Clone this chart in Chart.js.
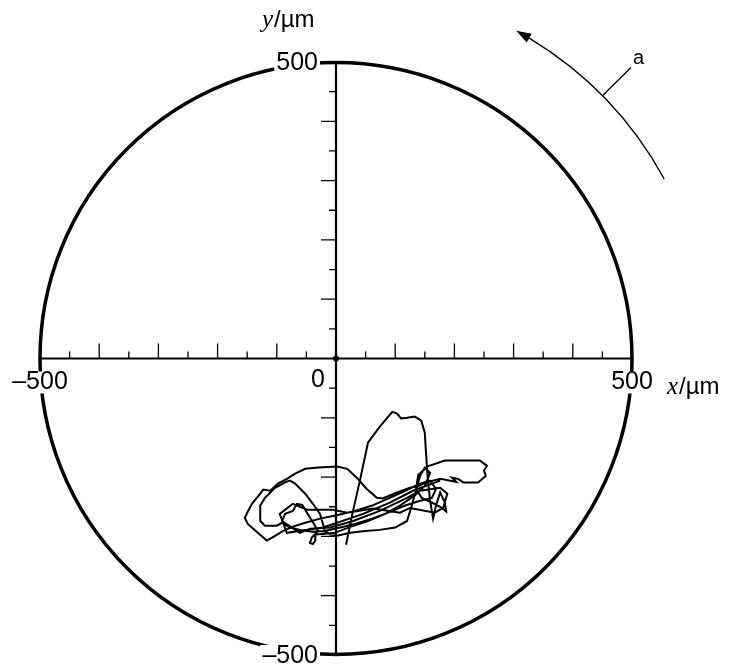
<!DOCTYPE html>
<html>
<head>
<meta charset="utf-8">
<script src="https://cdn.jsdelivr.net/npm/chart.js@4/dist/chart.umd.min.js"></script>
<style>
  body { margin: 0; background: #fff; }
  canvas { display: block; }
</style>
</head>
<body>
<canvas id="track" width="734" height="670"></canvas>
<script>
// trajectory in µm
const trackX = [17, 27, 41, 54, 74, 95, 103, 110, 120, 133, 144, 150, 152, 155, 159, 164,
  169, 176, 184, 186, 176, 160, 145, 135, 139, 155, 184, 213, 243, 255, 250, 253, 240, 215, 206, 196, 203, 193, 176, 155, 139,
  125, 103, 79, 69, 52, 35, 19, 2, -30, -52, -69, -83, -98, -111, -123, -128, -142, -150, -154, -149, -132, -117, -108, -98, -90, -74, -52, -27, 3, 32, 61, 91, 117, 142, 159,
  169, 162, 142, 117, 88, 61, 32, 7, -19, -41, -61, -78, -91, -100, -120, -128, -128, -120, -103, -86, -78, -69, -52, -39, -27, -22, -19, -10, 2, 24, 49, 74, 100, 120, 128, 135, 142, 150,
  159, 150, 133, 108, 83, 54, 24, -2, -24, -35, -35, -39, -44, -41, -30, -49, -57, -66, -73, -86, -91,
  -61, -44, -10, 29, 74, 120, 142, 176, 188, 181, 167, 125, 108, 63, 19, -5, -49, -73, -95, -83, -22, 46, 91, 130, 176];
const trackY = [-314, -265, -203, -142, -115, -90, -93, -101, -100, -98, -105, -125, -159, -203, -240, -270,
  -248, -226, -243, -258, -250, -242, -235, -220, -196, -182, -172, -172, -172, -181, -189, -198, -209, -209, -203, -201, -208, -206, -203, -208, -215,
  -218, -226, -236, -235, -220, -201, -186, -182, -184, -186, -194, -203, -211, -223, -221, -228, -245, -260, -269, -279, -294, -307, -302, -296, -291, -284, -277, -270, -264, -257, -248, -235, -223, -211, -206,
  -220, -235, -240, -248, -260, -270, -279, -285, -291, -292, -289, -285, -277, -282, -282, -274, -248, -235, -218, -209, -206, -211, -228, -245, -262, -279, -291, -297, -299, -294, -291, -289, -285, -274, -248, -223, -198, -184,
  -193, -215, -231, -248, -262, -274, -284, -294, -296, -297, -307, -313, -311, -302, -291, -260, -247, -245, -257, -262, -274,
  -294, -287, -285, -274, -257, -235, -223, -218, -228, -252, -260, -252, -260, -253, -260, -255, -255, -245, -262, -294, -285, -262, -243, -223, -206];

const axisLimit = 500;
const tickStep = 50;
const xTickValues = [-500, 0, 500];
const xTickLabels = ["\u2013500", "0", "500"];
const yTickValues = [500, -500];
const yTickLabels = ["500", "\u2013500"];

const points = trackX.map((x, i) => ({ x: x, y: trackY[i] }));

const numFont = '25px "Liberation Sans", Arial, sans-serif';

// text with a white box behind it, so the circle is broken where a label sits
function boxedText(ctx, text, x, y, align) {
  const w = ctx.measureText(text).width;
  const left = align === "right" ? x - w : align === "center" ? x - w / 2 : x;
  ctx.fillStyle = "#fff";
  ctx.fillRect(left - 2, y - 11, w + 4, 22);
  ctx.fillStyle = "#000";
  ctx.textAlign = align;
  ctx.textBaseline = "middle";
  ctx.fillText(text, x, y);
}

const polarFrame = {
  id: "polarFrame",
  beforeDatasetsDraw(chart) {
    const ctx = chart.ctx;
    const xs = chart.scales.x, ys = chart.scales.y;
    const x0 = xs.getPixelForValue(0), y0 = ys.getPixelForValue(0);
    const r = xs.getPixelForValue(axisLimit) - x0;
    ctx.save();
    ctx.strokeStyle = "#000";
    // outer circle
    ctx.lineWidth = 3.5;
    ctx.beginPath();
    ctx.arc(x0, y0, r, 0, Math.PI * 2);
    ctx.stroke();
    // axes
    ctx.lineWidth = 2.2;
    ctx.beginPath();
    ctx.moveTo(xs.getPixelForValue(-axisLimit), y0);
    ctx.lineTo(xs.getPixelForValue(axisLimit), y0);
    ctx.moveTo(x0, ys.getPixelForValue(axisLimit));
    ctx.lineTo(x0, ys.getPixelForValue(-axisLimit));
    ctx.stroke();
    // ticks
    ctx.lineWidth = 1.3;
    ctx.beginPath();
    for (let v = -axisLimit + tickStep; v < axisLimit; v += tickStep) {
      if (v === 0) continue;
      const len = v % 100 === 0 ? 15 : 7;
      const px = xs.getPixelForValue(v);
      ctx.moveTo(px, y0);
      ctx.lineTo(px, y0 - len);
      const py = ys.getPixelForValue(v);
      ctx.moveTo(x0, py);
      ctx.lineTo(x0 - len, py);
    }
    ctx.stroke();
    // origin dot
    ctx.fillStyle = "#000";
    ctx.beginPath();
    ctx.arc(x0, y0, 3, 0, Math.PI * 2);
    ctx.fill();
    ctx.restore();
  },
  afterDraw(chart) {
    const ctx = chart.ctx;
    const xs = chart.scales.x, ys = chart.scales.y;
    const x0 = xs.getPixelForValue(0), y0 = ys.getPixelForValue(0);
    const k = xs.getPixelForValue(axisLimit) - x0; // px per 500 µm
    ctx.save();
    ctx.font = numFont;
    // x tick labels
    xTickValues.forEach((v, i) => {
      const px = xs.getPixelForValue(v);
      if (v === 0) {
        boxedText(ctx, xTickLabels[i], px - 11, y0 + 22, "right");
      } else {
        boxedText(ctx, xTickLabels[i], px, y0 + 24, "center");
      }
    });
    // y tick labels
    yTickValues.forEach((v, i) => {
      boxedText(ctx, yTickLabels[i], x0 - 18, ys.getPixelForValue(v) + 1, "right");
    });
    // axis titles
    const drawTitle = (v, x, y) => {
      ctx.fillStyle = "#000";
      ctx.textAlign = "left";
      ctx.textBaseline = "alphabetic";
      ctx.font = 'italic 25px "Liberation Serif", "Times New Roman", serif';
      ctx.fillText(v, x, y);
      const w = ctx.measureText(v).width;
      ctx.font = '24px "Liberation Sans", Arial, sans-serif';
      ctx.fillText("/\u00b5m", x + w + 1, y);
    };
    drawTitle("x", xs.getPixelForValue(axisLimit) + 35, y0 + 35);
    drawTitle("y", x0 - 74, 27);

    // rotation arrow "a"
    const R = k * 632 / axisLimit;
    const rad = d => d * Math.PI / 180;
    const tipA = rad(61.2), startA = rad(28.7);
    const headLen = 15;
    const baseA = tipA - headLen / R;
    ctx.lineWidth = 1.3;
    ctx.strokeStyle = "#000";
    ctx.fillStyle = "#000";
    ctx.beginPath();
    ctx.arc(x0, y0, R, -startA, -baseA, true);
    ctx.stroke();
    const tx = x0 + R * Math.cos(tipA), ty = y0 - R * Math.sin(tipA);
    const bx = x0 + R * Math.cos(baseA), by = y0 - R * Math.sin(baseA);
    const dx = tx - bx, dy = ty - by, dl = Math.hypot(dx, dy);
    const nx = -dy / dl * 5, ny = dx / dl * 5;
    ctx.beginPath();
    ctx.moveTo(tx, ty);
    ctx.lineTo(bx + nx, by + ny);
    ctx.lineTo(bx - nx, by - ny);
    ctx.closePath();
    ctx.fill();
    // leader line
    const la = rad(44.6);
    const r1 = R, r2 = k * 700 / axisLimit;
    ctx.beginPath();
    ctx.moveTo(x0 + r1 * Math.cos(la), y0 - r1 * Math.sin(la));
    ctx.lineTo(x0 + r2 * Math.cos(la), y0 - r2 * Math.sin(la));
    ctx.stroke();
    ctx.font = '20px "Liberation Sans", Arial, sans-serif';
    ctx.textAlign = "left";
    ctx.textBaseline = "alphabetic";
    ctx.fillText("a", x0 + r2 * Math.cos(la) + 2, y0 - r2 * Math.sin(la) - 4);
    ctx.restore();
  }
};

new Chart(document.getElementById("track"), {
  type: "scatter",
  data: {
    datasets: [{
      data: points,
      showLine: true,
      borderColor: "#000",
      borderWidth: 2,
      pointRadius: 0,
      tension: 0,
      fill: false
    }]
  },
  options: {
    responsive: false,
    animation: false,
    layout: { padding: { left: 40, right: 102, top: 62, bottom: 15 } },
    plugins: { legend: { display: false }, tooltip: { enabled: false } },
    scales: {
      x: { type: "linear", min: -axisLimit, max: axisLimit, display: false },
      y: { type: "linear", min: -axisLimit, max: axisLimit, display: false }
    }
  },
  plugins: [polarFrame]
});
</script>
</body>
</html>
